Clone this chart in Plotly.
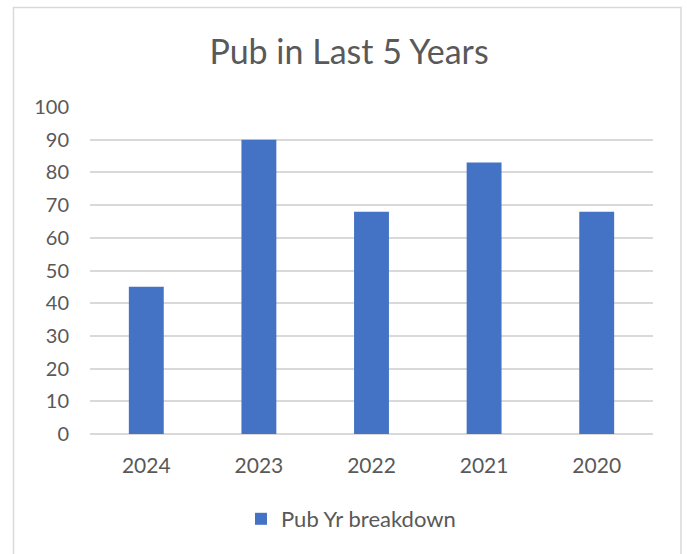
import plotly.graph_objects as go

# Publication counts per year
years = ["2024", "2023", "2022", "2021", "2020"]
pub_counts = [45, 90, 68, 83, 68]
series_name = "Pub Yr breakdown"
y_ticks = [0, 10, 20, 30, 40, 50, 60, 70, 80, 90, 100]

W, H = 687, 554
L, R, T, B = 90, 34, 107, 120
plot_w = W - L - R
plot_h = H - T - B

TEXT = "#595959"
GRID = "#d9d9d9"
BAR = "#4472C4"
FONT = "Lato"

fig = go.Figure(
    go.Bar(
        x=years,
        y=pub_counts,
        name=series_name,
        marker=dict(color=BAR, line=dict(width=0)),
        showlegend=True,
    )
)

# light chart-area frame (open at the bottom)
def px_x(v):
    return (v - L) / plot_w

def px_y(v):
    return (H - B - v) / plot_h

fig.add_shape(
    type="path",
    xref="paper", yref="paper",
    path=(f"M {px_x(13.5)} {px_y(560)} L {px_x(13.5)} {px_y(7.5)} "
          f"L {px_x(681)} {px_y(7.5)} L {px_x(681)} {px_y(560)}"),
    line=dict(color=GRID, width=1.5),
)

fig.update_layout(
    width=W, height=H,
    margin=dict(l=L, r=R, t=T, b=B),
    paper_bgcolor="white",
    plot_bgcolor="white",
    font=dict(family=FONT, color=TEXT, size=20),
    title=dict(
        text="Pub in Last 5 Years",
        font=dict(family=FONT, size=34, color=TEXT),
        x=349 / W, xanchor="center",
        y=1 - 52 / H, yanchor="middle",
        xref="container", yref="container",
    ),
    bargap=0.69,
    showlegend=True,
    legend=dict(
        orientation="h",
        x=px_x(351), xanchor="center",
        y=px_y(519), yanchor="middle",
        font=dict(family=FONT, size=22, color=TEXT),
    ),
    xaxis=dict(
        showgrid=False,
        showline=False,
        ticks="",
        ticklabelstandoff=17,
        tickfont=dict(family=FONT, size=21, color=TEXT),
    ),
    yaxis=dict(
        range=[0, 100],
        tickvals=y_ticks,
        showgrid=True,
        gridcolor=GRID,
        gridwidth=1.5,
        zeroline=True,
        zerolinecolor=GRID,
        zerolinewidth=1.5,
        showline=False,
        ticks="",
        ticklabelstandoff=20,
        tickfont=dict(family=FONT, size=20, color=TEXT),
    ),
)

fig.write_html("out.html")
